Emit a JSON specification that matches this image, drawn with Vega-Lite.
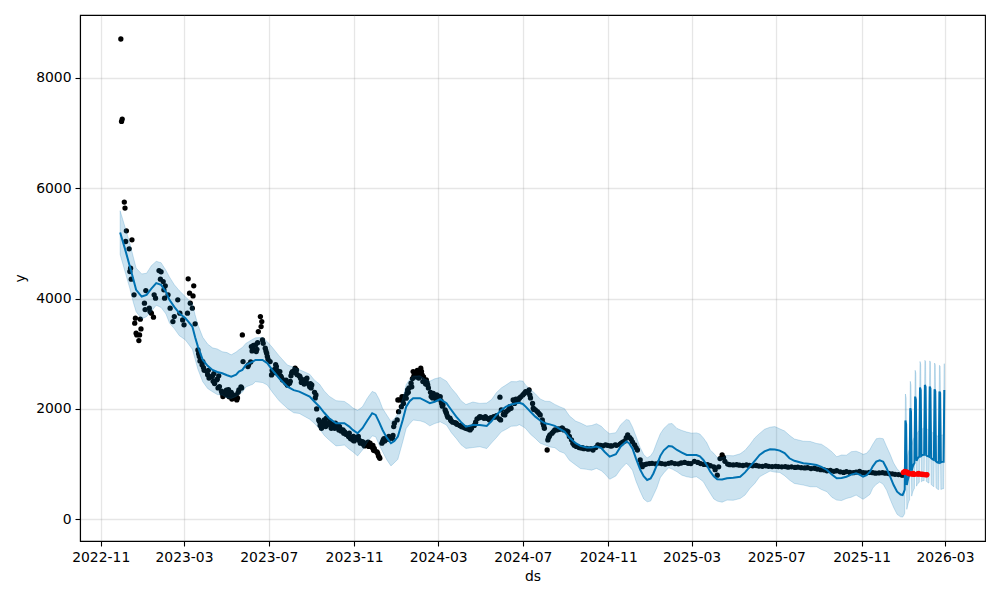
{
  "$schema": "https://vega.github.io/schema/vega-lite/v6.json",
  "width": 905,
  "height": 526,
  "autosize": {"type": "none"},
  "padding": {"left": 80, "top": 15, "right": 15, "bottom": 59},
  "background": "white",
  "config": {
    "font": "DejaVu Sans",
    "view": {"stroke": "black", "strokeWidth": 1.1},
    "axis": {
      "domainColor": "black", "domainWidth": 1.1,
      "tickColor": "black", "tickWidth": 1.1, "tickSize": 5,
      "gridColor": "#808080", "gridOpacity": 0.2, "gridWidth": 1.3,
      "labelFont": "DejaVu Sans", "labelFontSize": 13.9, "labelColor": "black", "labelPadding": 4,
      "titleFont": "DejaVu Sans", "titleFontSize": 13.9, "titleFontWeight": "normal", "titleColor": "black"
    }
  },
  "datasets": {
    "obs": [
      {"ds":"2022-11-30","y":8702},{"ds":"2022-12-01","y":7209},{"ds":"2022-12-02","y":7252},{"ds":"2022-12-05","y":5747},{"ds":"2022-12-06","y":5638},{"ds":"2022-12-07","y":5033},{"ds":"2022-12-08","y":5227},{"ds":"2022-12-12","y":4900},{"ds":"2022-12-13","y":4490},{"ds":"2022-12-14","y":4550},{"ds":"2022-12-15","y":4351},{"ds":"2022-12-16","y":5064},{"ds":"2022-12-19","y":4067},{"ds":"2022-12-20","y":3553},{"ds":"2022-12-21","y":3644},{"ds":"2022-12-22","y":3372},{"ds":"2022-12-23","y":3341},{"ds":"2022-12-26","y":3238},{"ds":"2022-12-27","y":3341},{"ds":"2022-12-28","y":3626},{"ds":"2022-12-29","y":3450},
      {"ds":"2023-01-03","y":3916},{"ds":"2023-01-04","y":3800},{"ds":"2023-01-05","y":4145},{"ds":"2023-01-10","y":3825},{"ds":"2023-01-11","y":3764},{"ds":"2023-01-13","y":3735},{"ds":"2023-01-16","y":3662},{"ds":"2023-01-17","y":4067},{"ds":"2023-01-19","y":4007},{"ds":"2023-01-24","y":4507},{"ds":"2023-01-26","y":4351},{"ds":"2023-01-27","y":4484},{"ds":"2023-01-30","y":4308},{"ds":"2023-01-31","y":4157},{"ds":"2023-02-01","y":4007},{"ds":"2023-02-02","y":4230},{"ds":"2023-02-06","y":4067},{"ds":"2023-02-09","y":3825},{"ds":"2023-02-13","y":3583},{"ds":"2023-02-15","y":3673},{"ds":"2023-02-20","y":3976},{"ds":"2023-02-23","y":3735},{"ds":"2023-02-27","y":3613},{"ds":"2023-03-01","y":3523},{"ds":"2023-03-06","y":3735},{"ds":"2023-03-07","y":4357},{"ds":"2023-03-09","y":4097},{"ds":"2023-03-10","y":3916},{"ds":"2023-03-13","y":3825},{"ds":"2023-03-14","y":4048},{"ds":"2023-03-15","y":4230},{"ds":"2023-03-17","y":3541},{"ds":"2023-03-21","y":3069},{"ds":"2023-03-22","y":3000},{"ds":"2023-03-23","y":2948},{"ds":"2023-03-24","y":2870},{"ds":"2023-03-27","y":2800},{"ds":"2023-03-28","y":2857},{"ds":"2023-03-29","y":2750},{"ds":"2023-03-30","y":2700},
      {"ds":"2023-04-03","y":2676},{"ds":"2023-04-04","y":2620},{"ds":"2023-04-05","y":2700},{"ds":"2023-04-06","y":2560},{"ds":"2023-04-10","y":2585},{"ds":"2023-04-11","y":2600},{"ds":"2023-04-12","y":2500},{"ds":"2023-04-13","y":2640},{"ds":"2023-04-14","y":2460},{"ds":"2023-04-17","y":2525},{"ds":"2023-04-18","y":2540},{"ds":"2023-04-19","y":2380},{"ds":"2023-04-20","y":2600},{"ds":"2023-04-21","y":2404},{"ds":"2023-04-24","y":2320},{"ds":"2023-04-25","y":2280},{"ds":"2023-04-26","y":2223},{"ds":"2023-04-27","y":2300},{"ds":"2023-04-28","y":2260},{"ds":"2023-05-01","y":2340},{"ds":"2023-05-02","y":2250},{"ds":"2023-05-03","y":2284},{"ds":"2023-05-04","y":2350},{"ds":"2023-05-05","y":2220},{"ds":"2023-05-08","y":2300},{"ds":"2023-05-09","y":2180},{"ds":"2023-05-10","y":2260},{"ds":"2023-05-11","y":2194},{"ds":"2023-05-12","y":2210},{"ds":"2023-05-15","y":2250},{"ds":"2023-05-16","y":2163},{"ds":"2023-05-17","y":2200},{"ds":"2023-05-18","y":2300},{"ds":"2023-05-19","y":2344},{"ds":"2023-05-22","y":2400},{"ds":"2023-05-23","y":2380},{"ds":"2023-05-24","y":3341},{"ds":"2023-05-25","y":2857},
      {"ds":"2023-06-01","y":2767},{"ds":"2023-06-02","y":2800},{"ds":"2023-06-05","y":2850},{"ds":"2023-06-06","y":3129},{"ds":"2023-06-07","y":3050},{"ds":"2023-06-08","y":3100},{"ds":"2023-06-09","y":3150},{"ds":"2023-06-12","y":3160},{"ds":"2023-06-13","y":3039},{"ds":"2023-06-14","y":3080},{"ds":"2023-06-15","y":3200},{"ds":"2023-06-16","y":3401},{"ds":"2023-06-19","y":3673},{"ds":"2023-06-20","y":3492},{"ds":"2023-06-21","y":3583},{"ds":"2023-06-22","y":3250},{"ds":"2023-06-23","y":3190},{"ds":"2023-06-26","y":3100},{"ds":"2023-06-27","y":3050},{"ds":"2023-06-28","y":3009},{"ds":"2023-06-29","y":2950},{"ds":"2023-06-30","y":2900},
      {"ds":"2023-07-03","y":2857},{"ds":"2023-07-05","y":2616},{"ds":"2023-07-06","y":2700},{"ds":"2023-07-07","y":2650},{"ds":"2023-07-10","y":2720},{"ds":"2023-07-11","y":2800},{"ds":"2023-07-12","y":2767},{"ds":"2023-07-13","y":2700},{"ds":"2023-07-14","y":2640},{"ds":"2023-07-17","y":2676},{"ds":"2023-07-18","y":2600},{"ds":"2023-07-19","y":2580},{"ds":"2023-07-20","y":2550},{"ds":"2023-07-21","y":2525},{"ds":"2023-07-24","y":2500},{"ds":"2023-07-25","y":2480},{"ds":"2023-07-26","y":2520},{"ds":"2023-07-27","y":2450},{"ds":"2023-07-28","y":2430},{"ds":"2023-07-31","y":2465},
      {"ds":"2023-08-01","y":2500},{"ds":"2023-08-02","y":2600},{"ds":"2023-08-03","y":2650},{"ds":"2023-08-04","y":2676},{"ds":"2023-08-07","y":2700},{"ds":"2023-08-08","y":2740},{"ds":"2023-08-09","y":2650},{"ds":"2023-08-10","y":2707},{"ds":"2023-08-11","y":2620},{"ds":"2023-08-14","y":2600},{"ds":"2023-08-15","y":2585},{"ds":"2023-08-16","y":2550},{"ds":"2023-08-17","y":2480},{"ds":"2023-08-18","y":2525},{"ds":"2023-08-21","y":2450},{"ds":"2023-08-22","y":2530},{"ds":"2023-08-23","y":2470},{"ds":"2023-08-24","y":2495},{"ds":"2023-08-25","y":2556},{"ds":"2023-08-28","y":2440},{"ds":"2023-08-29","y":2400},{"ds":"2023-08-30","y":2460},{"ds":"2023-08-31","y":2380},
      {"ds":"2023-09-01","y":2435},{"ds":"2023-09-05","y":2300},{"ds":"2023-09-06","y":2200},{"ds":"2023-09-07","y":2253},{"ds":"2023-09-08","y":2000},{"ds":"2023-09-11","y":1800},{"ds":"2023-09-12","y":1770},{"ds":"2023-09-13","y":1700},{"ds":"2023-09-14","y":1760},{"ds":"2023-09-15","y":1650},{"ds":"2023-09-18","y":1700},{"ds":"2023-09-19","y":1800},{"ds":"2023-09-20","y":1750},{"ds":"2023-09-21","y":1680},{"ds":"2023-09-22","y":1831},{"ds":"2023-09-25","y":1720},{"ds":"2023-09-26","y":1740},{"ds":"2023-09-27","y":1780},{"ds":"2023-09-28","y":1700},{"ds":"2023-09-29","y":1650},
      {"ds":"2023-10-02","y":1720},{"ds":"2023-10-03","y":1690},{"ds":"2023-10-04","y":1650},{"ds":"2023-10-05","y":1740},{"ds":"2023-10-06","y":1710},{"ds":"2023-10-09","y":1700},{"ds":"2023-10-10","y":1620},{"ds":"2023-10-11","y":1679},{"ds":"2023-10-12","y":1640},{"ds":"2023-10-13","y":1600},{"ds":"2023-10-16","y":1620},{"ds":"2023-10-17","y":1560},{"ds":"2023-10-18","y":1588},{"ds":"2023-10-19","y":1570},{"ds":"2023-10-20","y":1540},{"ds":"2023-10-23","y":1528},{"ds":"2023-10-24","y":1500},{"ds":"2023-10-25","y":1560},{"ds":"2023-10-26","y":1480},{"ds":"2023-10-27","y":1460},{"ds":"2023-10-30","y":1438},{"ds":"2023-10-31","y":1500},
      {"ds":"2023-11-01","y":1420},{"ds":"2023-11-02","y":1480},{"ds":"2023-11-03","y":1450},{"ds":"2023-11-06","y":1468},{"ds":"2023-11-07","y":1500},{"ds":"2023-11-08","y":1440},{"ds":"2023-11-09","y":1420},{"ds":"2023-11-10","y":1380},{"ds":"2023-11-13","y":1407},{"ds":"2023-11-14","y":1360},{"ds":"2023-11-15","y":1390},{"ds":"2023-11-16","y":1330},{"ds":"2023-11-17","y":1347},{"ds":"2023-11-20","y":1350},{"ds":"2023-11-21","y":1400},{"ds":"2023-11-22","y":1320},{"ds":"2023-11-24","y":1378},{"ds":"2023-11-27","y":1300},{"ds":"2023-11-28","y":1340},{"ds":"2023-11-29","y":1250},{"ds":"2023-11-30","y":1287},
      {"ds":"2023-12-01","y":1240},{"ds":"2023-12-04","y":1220},{"ds":"2023-12-05","y":1196},{"ds":"2023-12-06","y":1150},{"ds":"2023-12-07","y":1130},{"ds":"2023-12-08","y":1106},{"ds":"2023-12-11","y":1380},{"ds":"2023-12-12","y":1407},{"ds":"2023-12-13","y":1440},{"ds":"2023-12-14","y":1460},{"ds":"2023-12-15","y":1420},{"ds":"2023-12-18","y":1468},{"ds":"2023-12-19","y":1480},{"ds":"2023-12-20","y":1450},{"ds":"2023-12-21","y":1500},{"ds":"2023-12-22","y":1470},{"ds":"2023-12-26","y":1468},{"ds":"2023-12-27","y":1520},{"ds":"2023-12-28","y":1680},{"ds":"2023-12-29","y":1740},
      {"ds":"2024-01-02","y":1800},{"ds":"2024-01-03","y":2163},{"ds":"2024-01-04","y":1950},{"ds":"2024-01-05","y":2163},{"ds":"2024-01-08","y":2041},{"ds":"2024-01-09","y":2223},{"ds":"2024-01-10","y":2150},{"ds":"2024-01-11","y":2100},{"ds":"2024-01-12","y":2223},{"ds":"2024-01-15","y":2194},{"ds":"2024-01-16","y":2280},{"ds":"2024-01-17","y":2344},{"ds":"2024-01-18","y":2300},{"ds":"2024-01-19","y":2380},{"ds":"2024-01-22","y":2465},{"ds":"2024-01-23","y":2400},{"ds":"2024-01-24","y":2550},{"ds":"2024-01-25","y":2676},{"ds":"2024-01-26","y":2600},{"ds":"2024-01-29","y":2580},{"ds":"2024-01-30","y":2647},{"ds":"2024-01-31","y":2700},
      {"ds":"2024-02-01","y":2620},{"ds":"2024-02-02","y":2560},{"ds":"2024-02-05","y":2737},{"ds":"2024-02-06","y":2680},{"ds":"2024-02-07","y":2616},{"ds":"2024-02-08","y":2495},{"ds":"2024-02-09","y":2580},{"ds":"2024-02-12","y":2450},{"ds":"2024-02-13","y":2525},{"ds":"2024-02-14","y":2480},{"ds":"2024-02-15","y":2435},{"ds":"2024-02-16","y":2380},{"ds":"2024-02-19","y":2300},{"ds":"2024-02-20","y":2223},{"ds":"2024-02-21","y":2250},{"ds":"2024-02-22","y":2200},{"ds":"2024-02-23","y":2280},{"ds":"2024-02-26","y":2223},{"ds":"2024-02-27","y":2180},{"ds":"2024-02-28","y":2253},{"ds":"2024-02-29","y":2240},
      {"ds":"2024-03-01","y":2200},{"ds":"2024-03-04","y":2223},{"ds":"2024-03-05","y":2150},{"ds":"2024-03-06","y":2100},{"ds":"2024-03-07","y":2050},{"ds":"2024-03-08","y":2072},{"ds":"2024-03-11","y":1982},{"ds":"2024-03-12","y":1950},{"ds":"2024-03-13","y":1922},{"ds":"2024-03-14","y":1880},{"ds":"2024-03-15","y":1850},{"ds":"2024-03-18","y":1831},{"ds":"2024-03-19","y":1800},{"ds":"2024-03-20","y":1780},{"ds":"2024-03-22","y":1760},{"ds":"2024-03-25","y":1750},{"ds":"2024-03-27","y":1740},{"ds":"2024-03-28","y":1720},
      {"ds":"2024-04-01","y":1700},{"ds":"2024-04-03","y":1690},{"ds":"2024-04-04","y":1679},{"ds":"2024-04-05","y":1679},{"ds":"2024-04-08","y":1660},{"ds":"2024-04-10","y":1650},{"ds":"2024-04-12","y":1640},{"ds":"2024-04-15","y":1630},{"ds":"2024-04-16","y":1619},{"ds":"2024-04-18","y":1650},{"ds":"2024-04-22","y":1700},{"ds":"2024-04-24","y":1760},{"ds":"2024-04-26","y":1820},{"ds":"2024-04-29","y":1840},{"ds":"2024-04-30","y":1860},
      {"ds":"2024-05-02","y":1850},{"ds":"2024-05-06","y":1830},{"ds":"2024-05-08","y":1860},{"ds":"2024-05-10","y":1831},{"ds":"2024-05-13","y":1820},{"ds":"2024-05-14","y":1800},{"ds":"2024-05-16","y":1840},{"ds":"2024-05-20","y":1860},{"ds":"2024-05-22","y":1850},{"ds":"2024-05-24","y":1880},{"ds":"2024-05-28","y":1820},{"ds":"2024-05-29","y":2212},{"ds":"2024-05-30","y":1800},{"ds":"2024-05-31","y":1982},
      {"ds":"2024-06-03","y":1900},{"ds":"2024-06-05","y":1891},{"ds":"2024-06-07","y":1950},{"ds":"2024-06-10","y":1980},{"ds":"2024-06-12","y":2041},{"ds":"2024-06-14","y":2012},{"ds":"2024-06-17","y":2163},{"ds":"2024-06-19","y":2100},{"ds":"2024-06-21","y":2176},{"ds":"2024-06-24","y":2150},{"ds":"2024-06-26","y":2194},{"ds":"2024-06-28","y":2220},
      {"ds":"2024-07-01","y":2253},{"ds":"2024-07-03","y":2280},{"ds":"2024-07-05","y":2313},{"ds":"2024-07-08","y":2300},{"ds":"2024-07-10","y":2344},{"ds":"2024-07-11","y":2253},{"ds":"2024-07-12","y":2200},{"ds":"2024-07-15","y":2100},{"ds":"2024-07-16","y":2012},{"ds":"2024-07-17","y":1990},{"ds":"2024-07-19","y":1982},{"ds":"2024-07-22","y":1950},{"ds":"2024-07-24","y":1920},{"ds":"2024-07-26","y":1891},{"ds":"2024-07-29","y":1800},{"ds":"2024-07-30","y":1740},{"ds":"2024-07-31","y":1700},
      {"ds":"2024-08-01","y":1650},{"ds":"2024-08-05","y":1256},{"ds":"2024-08-06","y":1438},{"ds":"2024-08-07","y":1480},{"ds":"2024-08-08","y":1500},{"ds":"2024-08-09","y":1528},{"ds":"2024-08-12","y":1560},{"ds":"2024-08-14","y":1590},{"ds":"2024-08-16","y":1619},{"ds":"2024-08-19","y":1620},{"ds":"2024-08-21","y":1640},{"ds":"2024-08-23","y":1630},{"ds":"2024-08-26","y":1650},{"ds":"2024-08-27","y":1650},{"ds":"2024-08-29","y":1620},
      {"ds":"2024-09-02","y":1600},{"ds":"2024-09-04","y":1588},{"ds":"2024-09-06","y":1500},{"ds":"2024-09-09","y":1440},{"ds":"2024-09-11","y":1378},{"ds":"2024-09-13","y":1340},{"ds":"2024-09-16","y":1320},{"ds":"2024-09-18","y":1317},{"ds":"2024-09-20","y":1300},{"ds":"2024-09-23","y":1290},{"ds":"2024-09-25","y":1300},{"ds":"2024-09-27","y":1280},
      {"ds":"2024-10-01","y":1287},{"ds":"2024-10-03","y":1270},{"ds":"2024-10-07","y":1280},{"ds":"2024-10-10","y":1256},{"ds":"2024-10-14","y":1300},{"ds":"2024-10-17","y":1347},{"ds":"2024-10-21","y":1340},{"ds":"2024-10-24","y":1330},{"ds":"2024-10-28","y":1350},{"ds":"2024-10-31","y":1340},
      {"ds":"2024-11-04","y":1330},{"ds":"2024-11-06","y":1330},{"ds":"2024-11-11","y":1350},{"ds":"2024-11-13","y":1340},{"ds":"2024-11-18","y":1360},{"ds":"2024-11-20","y":1380},{"ds":"2024-11-22","y":1400},{"ds":"2024-11-25","y":1420},{"ds":"2024-11-27","y":1480},{"ds":"2024-11-29","y":1528},
      {"ds":"2024-12-02","y":1480},{"ds":"2024-12-04","y":1450},{"ds":"2024-12-06","y":1400},{"ds":"2024-12-09","y":1350},{"ds":"2024-12-11","y":1300},{"ds":"2024-12-13","y":1256},{"ds":"2024-12-17","y":1075},{"ds":"2024-12-18","y":1000},{"ds":"2024-12-20","y":954},{"ds":"2024-12-23","y":990},{"ds":"2024-12-26","y":1000},{"ds":"2024-12-30","y":1010},
      {"ds":"2025-01-03","y":1015},{"ds":"2025-01-08","y":1005},{"ds":"2025-01-13","y":1020},{"ds":"2025-01-17","y":1010},{"ds":"2025-01-22","y":1000},{"ds":"2025-01-27","y":1015},{"ds":"2025-01-31","y":1025},{"ds":"2025-02-05","y":1010},{"ds":"2025-02-10","y":1005},{"ds":"2025-02-14","y":1020},{"ds":"2025-02-19","y":1030},{"ds":"2025-02-24","y":1015},{"ds":"2025-02-28","y":1010},{"ds":"2025-03-05","y":1050},{"ds":"2025-03-10","y":1030},{"ds":"2025-03-14","y":1010},{"ds":"2025-03-19","y":995},{"ds":"2025-03-24","y":990},{"ds":"2025-03-28","y":970},{"ds":"2025-04-02","y":950},{"ds":"2025-04-04","y":900},{"ds":"2025-04-07","y":800},{"ds":"2025-04-09","y":950},{"ds":"2025-04-11","y":1100},{"ds":"2025-04-14","y":1166},{"ds":"2025-04-16","y":1120},{"ds":"2025-04-18","y":1050},{"ds":"2025-04-22","y":1000},{"ds":"2025-04-25","y":990},{"ds":"2025-04-30","y":985},
      {"ds":"2025-05-05","y":990},{"ds":"2025-05-09","y":980},{"ds":"2025-05-14","y":975},{"ds":"2025-05-19","y":985},{"ds":"2025-05-23","y":975},{"ds":"2025-05-28","y":970},{"ds":"2025-06-02","y":975},{"ds":"2025-06-06","y":965},{"ds":"2025-06-11","y":960},{"ds":"2025-06-16","y":970},{"ds":"2025-06-20","y":960},{"ds":"2025-06-25","y":955},{"ds":"2025-06-30","y":960},{"ds":"2025-07-04","y":955},{"ds":"2025-07-09","y":950},{"ds":"2025-07-14","y":955},{"ds":"2025-07-18","y":945},{"ds":"2025-07-23","y":950},{"ds":"2025-07-28","y":940},{"ds":"2025-08-01","y":945},{"ds":"2025-08-06","y":935},{"ds":"2025-08-11","y":930},{"ds":"2025-08-15","y":935},{"ds":"2025-08-20","y":920},{"ds":"2025-08-25","y":925},{"ds":"2025-08-29","y":910},{"ds":"2025-09-03","y":900},{"ds":"2025-09-08","y":895},{"ds":"2025-09-12","y":880},{"ds":"2025-09-17","y":885},{"ds":"2025-09-22","y":870},{"ds":"2025-09-26","y":880},{"ds":"2025-10-01","y":860},{"ds":"2025-10-06","y":850},{"ds":"2025-10-10","y":865},{"ds":"2025-10-15","y":850},{"ds":"2025-10-20","y":845},{"ds":"2025-10-24","y":855},{"ds":"2025-10-29","y":870},{"ds":"2025-11-03","y":845},{"ds":"2025-11-07","y":840},{"ds":"2025-11-12","y":850},{"ds":"2025-11-17","y":845},{"ds":"2025-11-21","y":835},{"ds":"2025-11-26","y":840},{"ds":"2025-12-01","y":845},{"ds":"2025-12-05","y":835},{"ds":"2025-12-10","y":830},{"ds":"2025-12-15","y":825},{"ds":"2025-12-19","y":815},{"ds":"2025-12-24","y":810},{"ds":"2025-12-29","y":805},{"ds":"2025-12-30","y":800}
    ],
    "fc": [
      {"ds":"2022-11-29","yhat":5197,"lo":4797,"hi":5590},{"ds":"2022-12-06","yhat":4900,"lo":4490,"hi":5295},{"ds":"2022-12-13","yhat":4580,"lo":4180,"hi":4995},{"ds":"2022-12-18","yhat":4350,"lo":3930,"hi":4750},{"ds":"2022-12-22","yhat":4157,"lo":3762,"hi":4552},{"ds":"2022-12-30","yhat":4036,"lo":3631,"hi":4446},{"ds":"2023-01-06","yhat":4067,"lo":3672,"hi":4457},{"ds":"2023-01-13","yhat":4180,"lo":3770,"hi":4595},{"ds":"2023-01-20","yhat":4279,"lo":3879,"hi":4674},{"ds":"2023-01-27","yhat":4248,"lo":3838,"hi":4648},{"ds":"2023-02-03","yhat":4120,"lo":3720,"hi":4510},{"ds":"2023-02-08","yhat":3976,"lo":3556,"hi":4391},{"ds":"2023-02-15","yhat":3850,"lo":3455,"hi":4250},{"ds":"2023-02-22","yhat":3735,"lo":3330,"hi":4145},{"ds":"2023-03-03","yhat":3644,"lo":3249,"hi":4034},{"ds":"2023-03-13","yhat":3492,"lo":3082,"hi":3907},{"ds":"2023-03-17","yhat":3300,"lo":2900,"hi":3700},{"ds":"2023-03-21","yhat":3129,"lo":2719,"hi":3524},{"ds":"2023-03-28","yhat":2888,"lo":2493,"hi":3298},{"ds":"2023-04-04","yhat":2780,"lo":2370,"hi":3175},{"ds":"2023-04-11","yhat":2707,"lo":2312,"hi":3107},{"ds":"2023-04-18","yhat":2670,"lo":2260,"hi":3085},{"ds":"2023-04-25","yhat":2647,"lo":2252,"hi":3037},{"ds":"2023-05-02","yhat":2610,"lo":2200,"hi":3020},{"ds":"2023-05-08","yhat":2585,"lo":2190,"hi":2980},{"ds":"2023-05-15","yhat":2620,"lo":2225,"hi":3030},{"ds":"2023-05-19","yhat":2676,"lo":2266,"hi":3071},{"ds":"2023-05-24","yhat":2707,"lo":2302,"hi":3112},{"ds":"2023-05-29","yhat":2797,"lo":2397,"hi":3187},{"ds":"2023-06-08","yhat":2857,"lo":2447,"hi":3262},{"ds":"2023-06-12","yhat":2888,"lo":2493,"hi":3288},{"ds":"2023-06-22","yhat":2888,"lo":2478,"hi":3293},{"ds":"2023-06-29","yhat":2828,"lo":2433,"hi":3218},{"ds":"2023-07-06","yhat":2707,"lo":2307,"hi":3117},{"ds":"2023-07-16","yhat":2556,"lo":2146,"hi":2961},{"ds":"2023-07-28","yhat":2404,"lo":2009,"hi":2794},{"ds":"2023-08-06","yhat":2340,"lo":1930,"hi":2755},{"ds":"2023-08-14","yhat":2313,"lo":1918,"hi":2713},{"ds":"2023-08-29","yhat":2223,"lo":1813,"hi":2628},{"ds":"2023-09-05","yhat":2130,"lo":1735,"hi":2520},{"ds":"2023-09-12","yhat":2041,"lo":1641,"hi":2451},{"ds":"2023-09-19","yhat":1930,"lo":1520,"hi":2325},{"ds":"2023-09-26","yhat":1831,"lo":1436,"hi":2231},{"ds":"2023-10-06","yhat":1740,"lo":1330,"hi":2150},{"ds":"2023-10-18","yhat":1740,"lo":1345,"hi":2135},{"ds":"2023-10-25","yhat":1680,"lo":1270,"hi":2075},{"ds":"2023-10-30","yhat":1619,"lo":1224,"hi":2019},{"ds":"2023-11-06","yhat":1559,"lo":1149,"hi":1974},{"ds":"2023-11-13","yhat":1650,"lo":1255,"hi":2040},{"ds":"2023-11-20","yhat":1790,"lo":1395,"hi":2195},{"ds":"2023-11-27","yhat":1922,"lo":1512,"hi":2317},{"ds":"2023-12-02","yhat":1891,"lo":1496,"hi":2291},{"ds":"2023-12-07","yhat":1760,"lo":1350,"hi":2175},{"ds":"2023-12-12","yhat":1619,"lo":1224,"hi":2009},{"ds":"2023-12-18","yhat":1480,"lo":1080,"hi":1890},{"ds":"2023-12-24","yhat":1378,"lo":968,"hi":1773},{"ds":"2023-12-29","yhat":1420,"lo":1025,"hi":1820},{"ds":"2024-01-03","yhat":1498,"lo":1088,"hi":1913},{"ds":"2024-01-10","yhat":1800,"lo":1405,"hi":2190},{"ds":"2024-01-15","yhat":2041,"lo":1646,"hi":2441},{"ds":"2024-01-20","yhat":2140,"lo":1730,"hi":2535},{"ds":"2024-01-25","yhat":2194,"lo":1799,"hi":2594},{"ds":"2024-02-04","yhat":2194,"lo":1784,"hi":2599},{"ds":"2024-02-11","yhat":2150,"lo":1755,"hi":2540},{"ds":"2024-02-18","yhat":2103,"lo":1693,"hi":2503},{"ds":"2024-02-25","yhat":2130,"lo":1735,"hi":2545},{"ds":"2024-03-04","yhat":2176,"lo":1766,"hi":2571},{"ds":"2024-03-13","yhat":2103,"lo":1708,"hi":2503},{"ds":"2024-03-20","yhat":1980,"lo":1570,"hi":2375},{"ds":"2024-03-27","yhat":1860,"lo":1465,"hi":2275},{"ds":"2024-04-03","yhat":1760,"lo":1350,"hi":2150},{"ds":"2024-04-10","yhat":1679,"lo":1284,"hi":2079},{"ds":"2024-04-20","yhat":1710,"lo":1300,"hi":2125},{"ds":"2024-04-30","yhat":1710,"lo":1315,"hi":2100},{"ds":"2024-05-10","yhat":1692,"lo":1282,"hi":2107},{"ds":"2024-05-17","yhat":1780,"lo":1385,"hi":2170},{"ds":"2024-05-24","yhat":1891,"lo":1481,"hi":2296},{"ds":"2024-05-31","yhat":1980,"lo":1585,"hi":2380},{"ds":"2024-06-07","yhat":2041,"lo":1631,"hi":2436},{"ds":"2024-06-14","yhat":2080,"lo":1685,"hi":2495},{"ds":"2024-06-22","yhat":2103,"lo":1693,"hi":2493},{"ds":"2024-06-26","yhat":2110,"lo":1715,"hi":2510},{"ds":"2024-07-01","yhat":2090,"lo":1680,"hi":2505},{"ds":"2024-07-05","yhat":2041,"lo":1646,"hi":2431},{"ds":"2024-07-12","yhat":1950,"lo":1540,"hi":2350},{"ds":"2024-07-19","yhat":1860,"lo":1465,"hi":2275},{"ds":"2024-07-26","yhat":1790,"lo":1380,"hi":2180},{"ds":"2024-08-02","yhat":1740,"lo":1345,"hi":2140},{"ds":"2024-08-09","yhat":1720,"lo":1310,"hi":2135},{"ds":"2024-08-16","yhat":1692,"lo":1297,"hi":2082},{"ds":"2024-08-23","yhat":1640,"lo":1230,"hi":2040},{"ds":"2024-08-30","yhat":1590,"lo":1195,"hi":2005},{"ds":"2024-09-06","yhat":1480,"lo":1070,"hi":1875},{"ds":"2024-09-15","yhat":1380,"lo":985,"hi":1780},{"ds":"2024-09-22","yhat":1330,"lo":920,"hi":1745},{"ds":"2024-10-01","yhat":1300,"lo":905,"hi":1690},{"ds":"2024-10-08","yhat":1300,"lo":890,"hi":1700},{"ds":"2024-10-15","yhat":1317,"lo":922,"hi":1732},{"ds":"2024-10-22","yhat":1290,"lo":880,"hi":1685},{"ds":"2024-10-27","yhat":1220,"lo":825,"hi":1620},{"ds":"2024-11-03","yhat":1135,"lo":725,"hi":1550},{"ds":"2024-11-12","yhat":1180,"lo":785,"hi":1570},{"ds":"2024-11-19","yhat":1320,"lo":910,"hi":1715},{"ds":"2024-11-27","yhat":1410,"lo":1015,"hi":1810},{"ds":"2024-12-01","yhat":1380,"lo":970,"hi":1795},{"ds":"2024-12-06","yhat":1280,"lo":885,"hi":1670},{"ds":"2024-12-11","yhat":1100,"lo":690,"hi":1505},{"ds":"2024-12-17","yhat":900,"lo":505,"hi":1300},{"ds":"2024-12-22","yhat":780,"lo":370,"hi":1175},{"ds":"2024-12-27","yhat":712,"lo":317,"hi":1112},{"ds":"2025-01-01","yhat":740,"lo":330,"hi":1150},{"ds":"2025-01-05","yhat":830,"lo":435,"hi":1225},{"ds":"2025-01-10","yhat":980,"lo":570,"hi":1395},{"ds":"2025-01-15","yhat":1150,"lo":755,"hi":1550},{"ds":"2025-01-20","yhat":1250,"lo":840,"hi":1645},{"ds":"2025-01-27","yhat":1329,"lo":934,"hi":1729},{"ds":"2025-02-01","yhat":1320,"lo":910,"hi":1735},{"ds":"2025-02-08","yhat":1256,"lo":861,"hi":1646},{"ds":"2025-02-15","yhat":1210,"lo":800,"hi":1610},{"ds":"2025-02-22","yhat":1166,"lo":771,"hi":1581},{"ds":"2025-03-01","yhat":1166,"lo":756,"hi":1561},{"ds":"2025-03-08","yhat":1166,"lo":771,"hi":1566},{"ds":"2025-03-13","yhat":1140,"lo":730,"hi":1545},{"ds":"2025-03-18","yhat":1075,"lo":680,"hi":1475},{"ds":"2025-03-23","yhat":980,"lo":570,"hi":1385},{"ds":"2025-03-28","yhat":863,"lo":468,"hi":1253},{"ds":"2025-04-02","yhat":780,"lo":370,"hi":1195},{"ds":"2025-04-07","yhat":725,"lo":330,"hi":1120},{"ds":"2025-04-14","yhat":720,"lo":310,"hi":1115},{"ds":"2025-04-21","yhat":743,"lo":348,"hi":1158},{"ds":"2025-04-30","yhat":755,"lo":345,"hi":1150},{"ds":"2025-05-10","yhat":772,"lo":377,"hi":1187},{"ds":"2025-05-17","yhat":850,"lo":440,"hi":1250},{"ds":"2025-05-24","yhat":954,"lo":559,"hi":1354},{"ds":"2025-05-31","yhat":1060,"lo":650,"hi":1475},{"ds":"2025-06-07","yhat":1166,"lo":771,"hi":1556},{"ds":"2025-06-14","yhat":1230,"lo":820,"hi":1630},{"ds":"2025-06-22","yhat":1269,"lo":874,"hi":1669},{"ds":"2025-06-29","yhat":1265,"lo":855,"hi":1680},{"ds":"2025-07-06","yhat":1244,"lo":849,"hi":1639},{"ds":"2025-07-13","yhat":1200,"lo":790,"hi":1600},{"ds":"2025-07-20","yhat":1106,"lo":711,"hi":1521},{"ds":"2025-07-27","yhat":1060,"lo":650,"hi":1455},{"ds":"2025-08-09","yhat":1015,"lo":620,"hi":1415},{"ds":"2025-08-19","yhat":1000,"lo":590,"hi":1410},{"ds":"2025-08-28","yhat":984,"lo":589,"hi":1374},{"ds":"2025-09-04","yhat":950,"lo":540,"hi":1360},{"ds":"2025-09-12","yhat":894,"lo":499,"hi":1294},{"ds":"2025-09-19","yhat":810,"lo":400,"hi":1225},{"ds":"2025-09-26","yhat":743,"lo":348,"hi":1133},{"ds":"2025-10-03","yhat":750,"lo":340,"hi":1165},{"ds":"2025-10-10","yhat":772,"lo":377,"hi":1162},{"ds":"2025-10-17","yhat":810,"lo":400,"hi":1225},{"ds":"2025-10-24","yhat":834,"lo":439,"hi":1234},{"ds":"2025-10-29","yhat":810,"lo":400,"hi":1210},{"ds":"2025-11-03","yhat":772,"lo":362,"hi":1177},{"ds":"2025-11-08","yhat":800,"lo":405,"hi":1195},{"ds":"2025-11-13","yhat":863,"lo":453,"hi":1268},{"ds":"2025-11-17","yhat":960,"lo":565,"hi":1360},{"ds":"2025-11-22","yhat":1044,"lo":634,"hi":1459},{"ds":"2025-11-27","yhat":1070,"lo":675,"hi":1470},{"ds":"2025-12-02","yhat":1044,"lo":634,"hi":1459},{"ds":"2025-12-07","yhat":920,"lo":525,"hi":1315},{"ds":"2025-12-12","yhat":772,"lo":362,"hi":1177},{"ds":"2025-12-17","yhat":620,"lo":215,"hi":1020},{"ds":"2025-12-22","yhat":500,"lo":90,"hi":915},{"ds":"2025-12-27","yhat":450,"lo":45,"hi":850},{"ds":"2025-12-30","yhat":440,"lo":40,"hi":845},
      {"ds":"2025-12-31","yhat":470,"lo":60,"hi":880},{"ds":"2026-01-01","yhat":500,"lo":80,"hi":920},{"ds":"2026-01-02","yhat":540,"lo":110,"hi":970},{"ds":"2026-01-03","yhat":1790,"lo":1340,"hi":2270},{"ds":"2026-01-04","yhat":1720,"lo":1260,"hi":2200},{"ds":"2026-01-05","yhat":620,"lo":180,"hi":1070},{"ds":"2026-01-06","yhat":690,"lo":240,"hi":1150},{"ds":"2026-01-07","yhat":740,"lo":290,"hi":1200},{"ds":"2026-01-08","yhat":780,"lo":330,"hi":1250},{"ds":"2026-01-09","yhat":810,"lo":350,"hi":1270},{"ds":"2026-01-10","yhat":2012,"lo":1550,"hi":2500},{"ds":"2026-01-11","yhat":1950,"lo":1490,"hi":2430},{"ds":"2026-01-12","yhat":880,"lo":420,"hi":1340},{"ds":"2026-01-13","yhat":930,"lo":470,"hi":1390},{"ds":"2026-01-14","yhat":970,"lo":510,"hi":1440},{"ds":"2026-01-15","yhat":1000,"lo":540,"hi":1470},{"ds":"2026-01-16","yhat":1020,"lo":560,"hi":1490},{"ds":"2026-01-17","yhat":2223,"lo":1760,"hi":2700},{"ds":"2026-01-18","yhat":2170,"lo":1710,"hi":2650},{"ds":"2026-01-19","yhat":1060,"lo":600,"hi":1530},{"ds":"2026-01-20","yhat":1090,"lo":630,"hi":1560},{"ds":"2026-01-21","yhat":1110,"lo":650,"hi":1580},{"ds":"2026-01-22","yhat":1125,"lo":660,"hi":1600},{"ds":"2026-01-23","yhat":1135,"lo":670,"hi":1610},{"ds":"2026-01-24","yhat":2387,"lo":1920,"hi":2860},{"ds":"2026-01-25","yhat":2340,"lo":1870,"hi":2810},{"ds":"2026-01-26","yhat":1150,"lo":680,"hi":1630},{"ds":"2026-01-27","yhat":1160,"lo":690,"hi":1640},{"ds":"2026-01-28","yhat":1166,"lo":700,"hi":1640},{"ds":"2026-01-29","yhat":1170,"lo":700,"hi":1650},{"ds":"2026-01-30","yhat":1170,"lo":700,"hi":1650},{"ds":"2026-01-31","yhat":2435,"lo":1960,"hi":2880},{"ds":"2026-02-01","yhat":2400,"lo":1930,"hi":2860},{"ds":"2026-02-02","yhat":1160,"lo":690,"hi":1640},{"ds":"2026-02-03","yhat":1150,"lo":680,"hi":1630},{"ds":"2026-02-04","yhat":1145,"lo":670,"hi":1630},{"ds":"2026-02-05","yhat":1140,"lo":660,"hi":1620},{"ds":"2026-02-06","yhat":1135,"lo":660,"hi":1610},{"ds":"2026-02-07","yhat":2405,"lo":1930,"hi":2870},{"ds":"2026-02-08","yhat":2370,"lo":1890,"hi":2850},{"ds":"2026-02-09","yhat":1110,"lo":630,"hi":1590},{"ds":"2026-02-10","yhat":1100,"lo":620,"hi":1580},{"ds":"2026-02-11","yhat":1090,"lo":610,"hi":1570},{"ds":"2026-02-12","yhat":1080,"lo":600,"hi":1560},{"ds":"2026-02-13","yhat":1075,"lo":590,"hi":1560},{"ds":"2026-02-14","yhat":2357,"lo":1870,"hi":2830},{"ds":"2026-02-15","yhat":2320,"lo":1840,"hi":2800},{"ds":"2026-02-16","yhat":1050,"lo":570,"hi":1530},{"ds":"2026-02-17","yhat":1040,"lo":560,"hi":1520},{"ds":"2026-02-18","yhat":1030,"lo":550,"hi":1510},{"ds":"2026-02-19","yhat":1030,"lo":540,"hi":1510},{"ds":"2026-02-20","yhat":1025,"lo":540,"hi":1510},{"ds":"2026-02-21","yhat":2314,"lo":1830,"hi":2790},{"ds":"2026-02-22","yhat":2290,"lo":1800,"hi":2770},{"ds":"2026-02-23","yhat":1030,"lo":540,"hi":1510},{"ds":"2026-02-24","yhat":1035,"lo":545,"hi":1520},{"ds":"2026-02-25","yhat":1040,"lo":550,"hi":1525},{"ds":"2026-02-26","yhat":1045,"lo":555,"hi":1530},{"ds":"2026-02-27","yhat":1045,"lo":555,"hi":1530},{"ds":"2026-02-28","yhat":2344,"lo":1850,"hi":2820}
    ],
    "test": [
      {"ds":"2025-12-31","y":850},{"ds":"2026-01-02","y":870},{"ds":"2026-01-05","y":860},{"ds":"2026-01-06","y":845},{"ds":"2026-01-07","y":840},{"ds":"2026-01-08","y":830},{"ds":"2026-01-09","y":825},{"ds":"2026-01-12","y":820},{"ds":"2026-01-13","y":825},{"ds":"2026-01-14","y":830},{"ds":"2026-01-15","y":820},{"ds":"2026-01-16","y":815},{"ds":"2026-01-20","y":820},{"ds":"2026-01-21","y":825},{"ds":"2026-01-22","y":830},{"ds":"2026-01-23","y":820},{"ds":"2026-01-26","y":815},{"ds":"2026-01-27","y":820},{"ds":"2026-01-28","y":810},{"ds":"2026-01-29","y":815},{"ds":"2026-01-30","y":810},{"ds":"2026-02-02","y":805},{"ds":"2026-02-03","y":810}
    ]
  },
  "encoding": {
    "x": {
      "field": "ds", "type": "temporal", "title": "ds",
      "scale": {"type": "utc", "domain": [{"year": 2022, "month": 10, "date": 2, "hours": 4, "minutes": 30, "utc": true}, {"year": 2026, "month": 4, "date": 27, "hours": 14, "minutes": 40, "utc": true}]},
      "axis": {
        "values": [
          {"year": 2022, "month": 11, "date": 1, "utc": true},
          {"year": 2023, "month": 3, "date": 1, "utc": true},
          {"year": 2023, "month": 7, "date": 1, "utc": true},
          {"year": 2023, "month": 11, "date": 1, "utc": true},
          {"year": 2024, "month": 3, "date": 1, "utc": true},
          {"year": 2024, "month": 7, "date": 1, "utc": true},
          {"year": 2024, "month": 11, "date": 1, "utc": true},
          {"year": 2025, "month": 3, "date": 1, "utc": true},
          {"year": 2025, "month": 7, "date": 1, "utc": true},
          {"year": 2025, "month": 11, "date": 1, "utc": true},
          {"year": 2026, "month": 3, "date": 1, "utc": true}
        ],
        "labelExpr": "utcFormat(datum.value, '%Y-%m')", "grid": true, "labelOverlap": false, "labelFlush": false, "titlePadding": 6
      }
    }
  },
  "layer": [
    {
      "data": {"name": "obs"},
      "mark": {"type": "circle", "color": "black", "size": 28, "opacity": 1},
      "encoding": {
        "y": {"field": "y", "type": "quantitative", "title": "y",
              "scale": {"domain": [-393, 9137], "nice": false, "zero": false},
              "axis": {"values": [0, 2000, 4000, 6000, 8000], "format": "d", "grid": true, "titlePadding": 8}}
      }
    },
    {
      "data": {"name": "fc"},
      "mark": {"type": "line", "color": "#0072B2", "strokeWidth": 2},
      "encoding": {
        "y": {"field": "yhat", "type": "quantitative", "title": "y"}
      }
    },
    {
      "data": {"name": "fc"},
      "mark": {"type": "area", "color": "#0072B2", "fillOpacity": 0.2, "stroke": "#0072B2", "strokeOpacity": 0.2, "strokeWidth": 1},
      "encoding": {
        "y": {"field": "lo", "type": "quantitative", "title": "y"},
        "y2": {"field": "hi"}
      }
    },
    {
      "data": {"name": "test"},
      "mark": {"type": "circle", "color": "red", "size": 28, "opacity": 1},
      "encoding": {
        "y": {"field": "y", "type": "quantitative", "title": "y"}
      }
    }
  ]
}
